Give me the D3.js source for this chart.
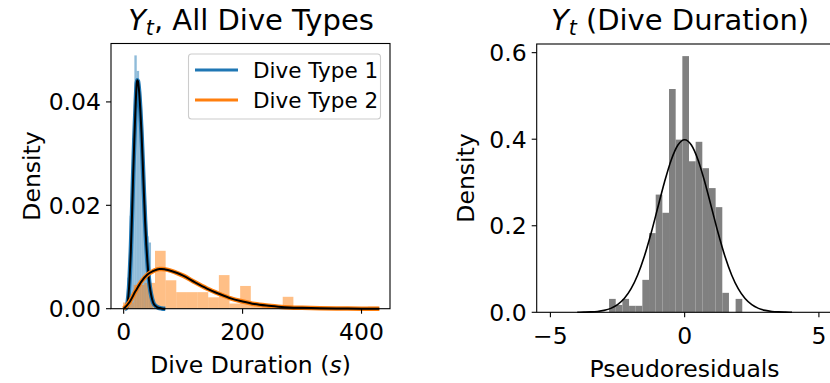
<!DOCTYPE html>
<html>
<head>
<meta charset="utf-8">
<script src="https://cdn.jsdelivr.net/npm/d3@7"></script>
<style>
  body { margin: 0; background: #fff; }
  svg { display: block; font-family: "DejaVu Sans", sans-serif; }
</style>
</head>
<body>
<svg width="830" height="383"></svg>
<script>
// left panel: dive durations, two dive types
const durTicks = [0, 200, 400]
const densTicksL = [0, 0.02, 0.04]
const type1Edges = [2, 6, 10, 14, 18, 22, 26, 30, 34, 38, 42, 46, 50]
const type1Dens = [0.001, 0.006, 0.018, 0.033, 0.049, 0.046, 0.040, 0.029, 0.020, 0.014, 0.0128, 0.002]
const type2Edges = [-1, 16.9, 34.8, 52.7, 70.6, 88.5, 106.4, 124.3, 142.2, 160.1, 178, 195.9, 213.8,
  231.7, 249.6, 267.5, 285.4, 303.3, 321.2, 339.1, 357, 374.9, 392.8, 410.7, 428.6]
const type2Dens = [0.0012, 0.0046, 0.0050, 0.0112, 0.0055, 0.0032, 0.0032, 0.0032, 0.0022, 0.0065, 0.0010,
  0.0044, 0.0006, 0.0006, 0.0006, 0.0023, 0, 0, 0, 0, 0, 0, 0, 0.0004]
const type1FitX = [2, 4, 6, 8, 10, 12, 14, 16, 18, 20, 22, 23, 24, 26, 28, 30, 32, 34, 36, 38, 40, 42, 44, 46, 48, 50, 54, 58, 64, 70]
const type1FitY = [0, 0.0001, 0.0007, 0.0025, 0.0058, 0.011, 0.018, 0.026, 0.033, 0.039, 0.0436, 0.0442, 0.0440,
  0.0420, 0.0385, 0.034, 0.0285, 0.0225, 0.017, 0.0125, 0.009, 0.0062, 0.0042, 0.0028, 0.0018, 0.0011, 0.0005, 0.0002, 0.00005, 0]
const type2FitX = [0, 10, 20, 30, 40, 50, 60, 64, 70, 80, 90, 100, 120, 140, 160, 180, 200, 220, 240, 260, 280, 300, 330, 360, 400, 430]
const type2FitY = [0, 0.0013, 0.0034, 0.0053, 0.0066, 0.0073, 0.0077, 0.0077, 0.0076, 0.0073, 0.0069, 0.0064, 0.0051,
  0.0039, 0.0029, 0.0020, 0.0014, 0.0009, 0.0006, 0.0004, 0.00025, 0.00017, 0.00008, 0.00004, 0.00001, 0]

// right panel: pseudoresiduals
const residTicks = [-5, 0, 5]
const densTicksR = [0, 0.2, 0.4, 0.6]
const residEdges = [-2.815, -2.567, -2.319, -2.071, -1.823, -1.575, -1.327, -1.078, -0.830, -0.582, -0.334,
  -0.086, 0.162, 0.410, 0.658, 0.906, 1.154, 1.402, 1.650, 1.898, 2.146]
const residDens = [0.031, 0.017, 0.031, 0.015, 0.015, 0.075, 0.183, 0.272, 0.230, 0.516, 0.399, 0.592,
  0.349, 0.394, 0.333, 0.287, 0.243, 0.045, 0, 0.031]
const normX = [-4, -3.75, -3.5, -3.25, -3, -2.75, -2.5, -2.25, -2, -1.75, -1.5, -1.25, -1, -0.75, -0.5, -0.25, 0,
  0.25, 0.5, 0.75, 1, 1.25, 1.5, 1.75, 2, 2.25, 2.5, 2.75, 3, 3.25, 3.5, 3.75, 4]
const normY = [0.0001, 0.0004, 0.0009, 0.0020, 0.0044, 0.0091, 0.0175, 0.0317, 0.0540, 0.0863, 0.1295, 0.1826,
  0.2420, 0.3011, 0.3521, 0.3867, 0.3989, 0.3867, 0.3521, 0.3011, 0.2420, 0.1826, 0.1295, 0.0863, 0.0540,
  0.0317, 0.0175, 0.0091, 0.0044, 0.0020, 0.0009, 0.0004, 0.0001]

const svg = d3.select('svg')
const fs = 23.5
const titleFs = 29

const xL = d3.scaleLinear().domain([-21.3, 447.9]).range([111, 390])
const yL = d3.scaleLinear().domain([0, 0.0513]).range([308.7, 43.5])
const xR = d3.scaleLinear().domain([-5.51, 5.51]).range([536.7, 832.6])
const yR = d3.scaleLinear().domain([0, 0.62]).range([312.3, 44])

function bars(g, edges, dens, x, y, fill, opacity) {
  g.append('g').selectAll('rect')
    .data(dens)
    .join('rect')
    .attr('x', (d, i) => x(edges[i]))
    .attr('width', (d, i) => x(edges[i + 1]) - x(edges[i]))
    .attr('y', d => y(d))
    .attr('height', d => y(0) - y(d))
    .attr('fill', fill)
    .attr('fill-opacity', opacity)
}

function fitLine(g, xs, ys, x, y, color, w) {
  const line = d3.line().x(d => x(d[0])).y(d => y(d[1])).curve(d3.curveMonotoneX)
  g.append('path')
    .attr('d', line(xs.map((v, i) => [v, ys[i]])))
    .attr('fill', 'none')
    .attr('stroke', color)
    .attr('stroke-width', w)
    .attr('stroke-linejoin', 'round')
}

function axes(x, y, xt, yt, yfmt, xb) {
  const [x0, x1] = x.range()
  const [y0, y1] = y.range()
  const ga = svg.append('g')
  ga.append('rect')
    .attr('x', x0).attr('y', y1).attr('width', x1 - x0).attr('height', y0 - y1)
    .attr('fill', 'none').attr('stroke', '#000').attr('stroke-width', 1.1)
  xt.forEach(t => {
    ga.append('line').attr('x1', x(t)).attr('x2', x(t)).attr('y1', y0).attr('y2', y0 + 5)
      .attr('stroke', '#000').attr('stroke-width', 1.1)
    ga.append('text').attr('x', x(t)).attr('y', xb).attr('text-anchor', 'middle')
      .attr('font-size', fs).text(t < 0 ? '\u2212' + Math.abs(t) : t)
  })
  yt.forEach(t => {
    ga.append('line').attr('x1', x0 - 5).attr('x2', x0).attr('y1', y(t)).attr('y2', y(t))
      .attr('stroke', '#000').attr('stroke-width', 1.1)
    ga.append('text').attr('x', x0 - 10).attr('y', y(t) + 8.5).attr('text-anchor', 'end')
      .attr('font-size', fs).text(d3.format(yfmt)(t))
  })
}

// left panel
const gL = svg.append('g')
bars(gL, type1Edges, type1Dens, xL, yL, '#1f77b4', 0.5)
bars(gL, type2Edges, type2Dens, xL, yL, '#ff7f0e', 0.5)
fitLine(gL, type1FitX, type1FitY, xL, yL, '#1f77b4', 4.5)
fitLine(gL, type1FitX, type1FitY, xL, yL, '#000', 2)
fitLine(gL, type2FitX, type2FitY, xL, yL, '#ff7f0e', 4.5)
fitLine(gL, type2FitX, type2FitY, xL, yL, '#000', 2)
axes(xL, yL, durTicks, densTicksL, '.2f', 340)

// legend
const leg = svg.append('g')
leg.append('rect').attr('x', 188.5).attr('y', 54).attr('width', 192).attr('height', 65).attr('rx', 3)
  .attr('fill', '#fff').attr('fill-opacity', 0.8).attr('stroke', '#ccc').attr('stroke-width', 1.1)
const legItems = [['Dive Type 1', '#1f77b4'], ['Dive Type 2', '#ff7f0e']]
legItems.forEach((d, i) => {
  const ly = 70 + i * 30
  leg.append('line').attr('x1', 195).attr('x2', 238).attr('y1', ly).attr('y2', ly)
    .attr('stroke', d[1]).attr('stroke-width', 3)
  leg.append('text').attr('x', 253).attr('y', ly + 7.5).attr('font-size', 21.5).text(d[0])
})

// right panel
const gR = svg.append('g')
bars(gR, residEdges, residDens, xR, yR, '#808080', 1)
fitLine(gR, normX, normY, xR, yR, '#000', 1.6)
axes(xR, yR, residTicks, densTicksR, '.1f', 343.5)

// titles and axis labels
function title(cx, label) {
  const t = svg.append('text').attr('x', cx).attr('y', 30).attr('text-anchor', 'middle').attr('font-size', titleFs)
  t.append('tspan').attr('font-style', 'italic').text('Y')
  t.append('tspan').attr('font-style', 'italic').attr('font-size', 20.5).attr('dy', 5).text('t')
  t.append('tspan').attr('dy', -5).text(label)
}
title(251, ', All Dive Types')
title(680, ' (Dive Duration)')

svg.append('text').attr('transform', 'translate(40,176) rotate(-90)').attr('text-anchor', 'middle')
  .attr('font-size', fs).text('Density')
svg.append('text').attr('transform', 'translate(474,178) rotate(-90)').attr('text-anchor', 'middle')
  .attr('font-size', fs).text('Density')

const xl = svg.append('text').attr('x', 250.5).attr('y', 373).attr('text-anchor', 'middle').attr('font-size', fs)
xl.append('tspan').text('Dive Duration (')
xl.append('tspan').attr('font-style', 'italic').text('s')
xl.append('tspan').text(')')
svg.append('text').attr('x', 684.6).attr('y', 377).attr('text-anchor', 'middle').attr('font-size', fs)
  .text('Pseudoresiduals')
</script>
</body>
</html>
